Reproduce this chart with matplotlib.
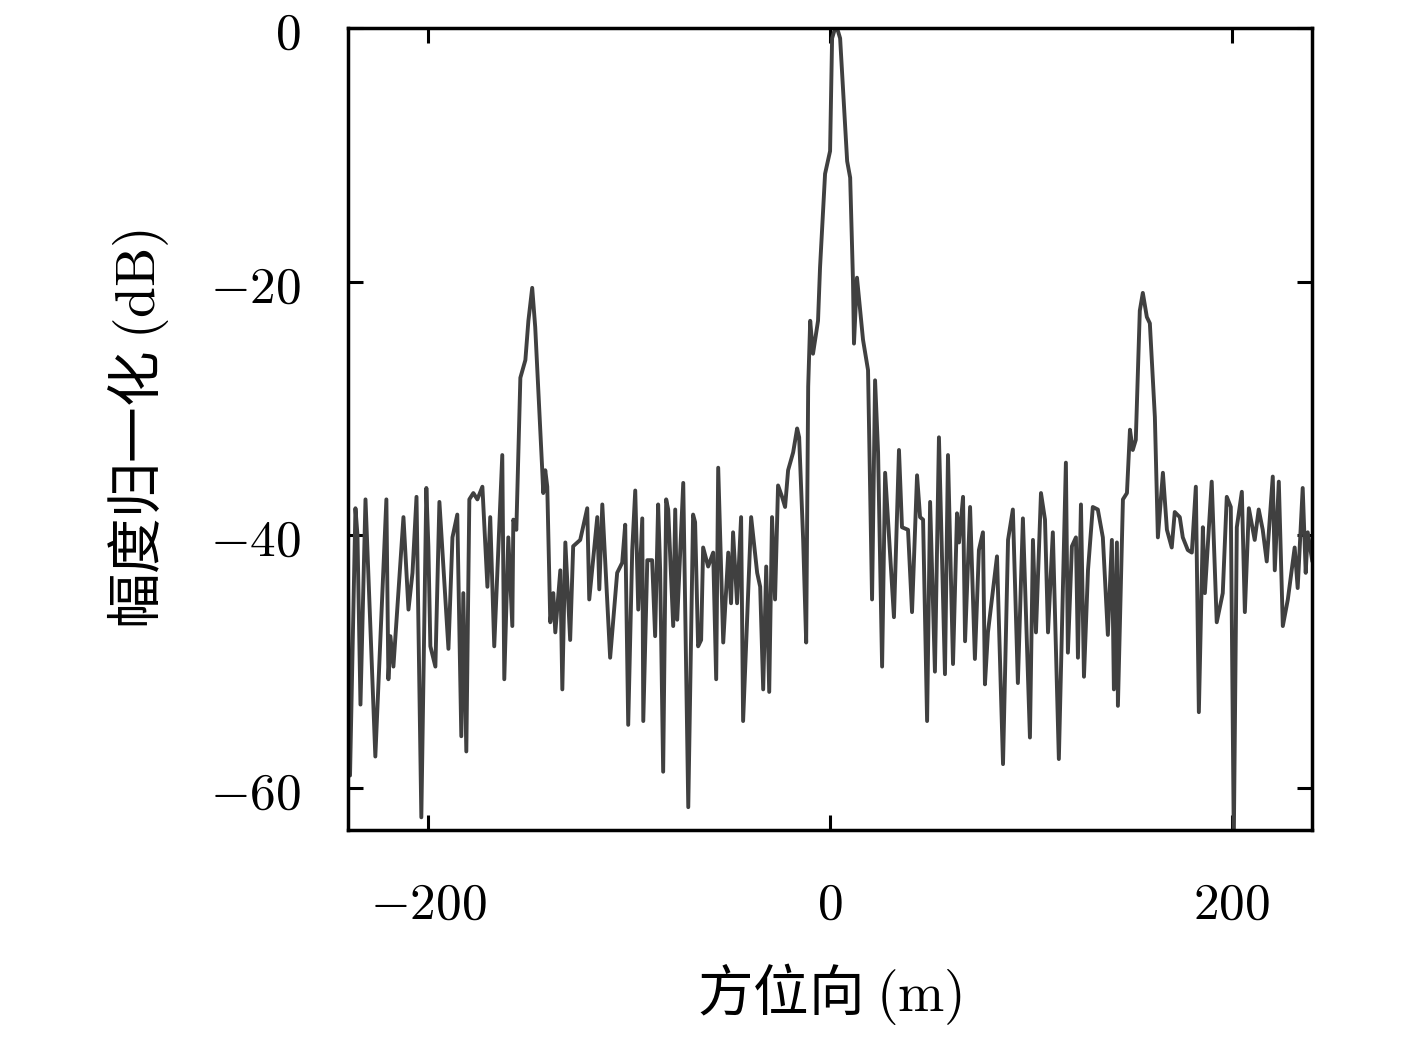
import matplotlib
matplotlib.use("Agg")
import matplotlib.pyplot as plt

plt.rcParams['mathtext.fontset'] = 'cm'
plt.rcParams['font.family'] = ['Noto Sans CJK SC', 'DejaVu Serif']

# azimuth position (m)
azimuth = [
    -240, -239, -236.3, -235.3, -233.8, -231.3, -226.4, -220.9, -219.9, -218.9,
    -217.4, -212.4, -209.9, -207.9, -205.9, -203.5, -201, -200, -199, -196.5,
    -194.5, -190, -188, -185.6, -183.6, -182.6, -181.1, -179.6, -177.6, -175.6,
    -173.1, -170.6, -169.2, -167.2, -163.2, -162.2, -160.2, -158.2, -157.7, -156.2,
    -154.2, -151.7, -150.2, -148.3, -146.8, -143.3, -142.8, -141.8, -140.8, -139.3,
    -137.8, -136.8, -134.3, -133.3, -131.8, -129.4, -127.9, -124.4, -120.9, -119.9,
    -115.9, -114.9, -113.4, -109.5, -106, -103.5, -102, -100.5, -98.5, -97,
    -95.5, -93.5, -93, -91, -88.6, -87.1, -85.6, -84.6, -83.1, -81.6,
    -80.6, -78.1, -77.1, -76.1, -73.1, -70.6, -68.2, -67.2, -65.7, -64.2,
    -63.2, -60.7, -58.2, -56.7, -55.7, -53.2, -50.7, -49.3, -48.3, -46.3,
    -44.3, -43.3, -39.3, -36.3, -34.8, -33.3, -31.8, -30.3, -28.9, -27.4,
    -25.9, -23.9, -22.4, -20.9, -18.4, -16.4, -15.4, -13.4, -11.9, -10.9,
    -9.9, -8.5, -6, -5, -2.5, 0, 1, 2.5, 3.5, 5,
    8.5, 10, 11.4, 11.9, 13.4, 16.4, 18.9, 20.9, 22.4, 23.9,
    25.9, 27.4, 31.8, 34.3, 35.8, 38.8, 40.8, 43.3, 44.8, 46.3,
    48.3, 49.8, 52.2, 54.2, 57.2, 58.7, 61.2, 63.2, 64.2, 66.2,
    67.2, 69.7, 72.1, 74.1, 76.1, 77.1, 78.6, 83.1, 86.1, 88.6,
    91, 93.5, 96, 99.5, 101, 102.5, 105, 107, 108.5, 110.9,
    113.9, 117.4, 118.4, 120.4, 122.4, 123.4, 124.9, 126.4, 128.4, 130.8,
    133.3, 135.8, 138.3, 140.3, 141.3, 142.8, 143.3, 145.8, 147.8, 149.3,
    150.7, 152.2, 154.2, 155.7, 157.7, 159.2, 161.7, 163.2, 165.7, 167.7,
    170.1, 171.6, 174.1, 175.6, 178.1, 180.1, 182.1, 183.6, 185.6, 186.6,
    190, 192.5, 195.5, 197.5, 199.5, 201, 202.5, 205, 206.5, 208.5,
    211.4, 213.4, 215.4, 217.4, 220.4, 221.4, 223.4, 225.4, 227.9, 231.3,
    232.8, 235.3, 236.8, 237.8, 240,
]

# normalized amplitude (dB)
amplitude = [
    -44, -59, -37.9, -40, -53.4, -37.2, -57.5, -37.2, -51.4, -48,
    -50.4, -38.6, -45.9, -43, -37, -62.3, -36.3, -40.9, -48.8, -50.4,
    -37.4, -49, -40.2, -38.4, -55.9, -44.6, -57.1, -37.2, -36.7, -37.2,
    -36.2, -44.1, -38.6, -48.8, -33.7, -51.4, -40.2, -47.2, -38.8, -39.6,
    -27.6, -26.2, -23.1, -20.5, -23.6, -34.9, -36.7, -34.9, -36.2, -46.9,
    -44.6, -47.7, -42.8, -52.2, -40.6, -48.3, -40.9, -40.4, -37.9, -45.1,
    -38.6, -44.3, -37.6, -49.7, -43, -42.2, -39.2, -55, -41.2, -36.5,
    -45.9, -38.7, -54.7, -42, -42, -48, -37.6, -42.8, -58.7, -37.2,
    -38, -47.2, -38, -46.7, -35.9, -61.5, -38.4, -39, -48.8, -48.3,
    -41, -42.5, -41.4, -51.4, -34.7, -48.5, -41.4, -45.4, -39.8, -45.4,
    -38.6, -54.7, -38.6, -43, -44.1, -52.2, -42.5, -52.4, -38.6, -45.1,
    -36.1, -37, -37.8, -34.9, -33.5, -31.6, -32.3, -40.4, -48.5, -28.3,
    -23.1, -25.7, -23.1, -18.9, -11.5, -9.7, -0.8, 0, 0, -0.8,
    -10.5, -11.8, -19.9, -24.9, -19.7, -24.6, -27, -45.1, -27.8, -33.5,
    -50.4, -35.1, -46.5, -33.3, -39.4, -39.6, -46.1, -35.3, -38.6, -38.8,
    -54.7, -37.4, -50.8, -32.3, -51, -33.7, -50.2, -38.3, -40.6, -37,
    -48.4, -37.8, -49.8, -41.2, -39.8, -51.8, -47.7, -41.7, -58.1, -40.4,
    -38, -51.7, -38.7, -56, -40.4, -47.7, -36.7, -38.8, -47.7, -39.8,
    -57.7, -34.3, -49.3, -40.9, -40.2, -49.7, -37.6, -51.2, -42.8, -37.8,
    -38, -40.2, -47.9, -40.4, -52.2, -40.6, -53.5, -37.2, -36.7, -31.7,
    -33.3, -32.5, -22.3, -20.9, -22.8, -23.3, -30.7, -40.2, -35.1, -39.6,
    -41, -38.2, -38.6, -40.2, -41.2, -41.4, -36.2, -54, -39.4, -44.6,
    -35.8, -46.9, -44.6, -37, -37.8, -64, -39.4, -36.6, -46.1, -37.9,
    -40.4, -38, -39.6, -42.1, -35.4, -42.8, -35.8, -47.2, -45.1, -41,
    -44.2, -36.3, -43, -39.8, -42,
]

x_ticks = [-200, 0, 200]
y_ticks = [0, -20, -40, -60]

fig = plt.figure(figsize=(14.17, 10.44), dpi=100)
ax = fig.add_axes([0.2456, 0.205, 0.6804, 0.768])
ax.plot(azimuth, amplitude, color='#404040', linewidth=2.8)

ax.set_xlim(-240, 240)
ax.set_ylim(-63.3, 0)
ax.set_xticks(x_ticks)
ax.set_xticklabels([f'${v}$' if v >= 0 else f'$-{abs(v)}$' for v in x_ticks])
ax.set_yticks(y_ticks)
ax.set_yticklabels([f'${v}$' if v >= 0 else f'$-{abs(v)}$' for v in y_ticks])

ax.tick_params(axis='both', which='both', direction='in', length=11, width=2.2,
               top=True, right=True, labelsize=37)
ax.tick_params(axis='x', pad=34)
ax.tick_params(axis='y', pad=34)
for sp in ax.spines.values():
    sp.set_linewidth(2.5)

ax.set_xlabel('方位向 $(\\mathrm{m})$', fontsize=40, labelpad=22)
ax.set_ylabel('幅度归一化 $(\\mathrm{dB})$', fontsize=40, labelpad=28)

fig.savefig('out.png', dpi=100, facecolor='white')
